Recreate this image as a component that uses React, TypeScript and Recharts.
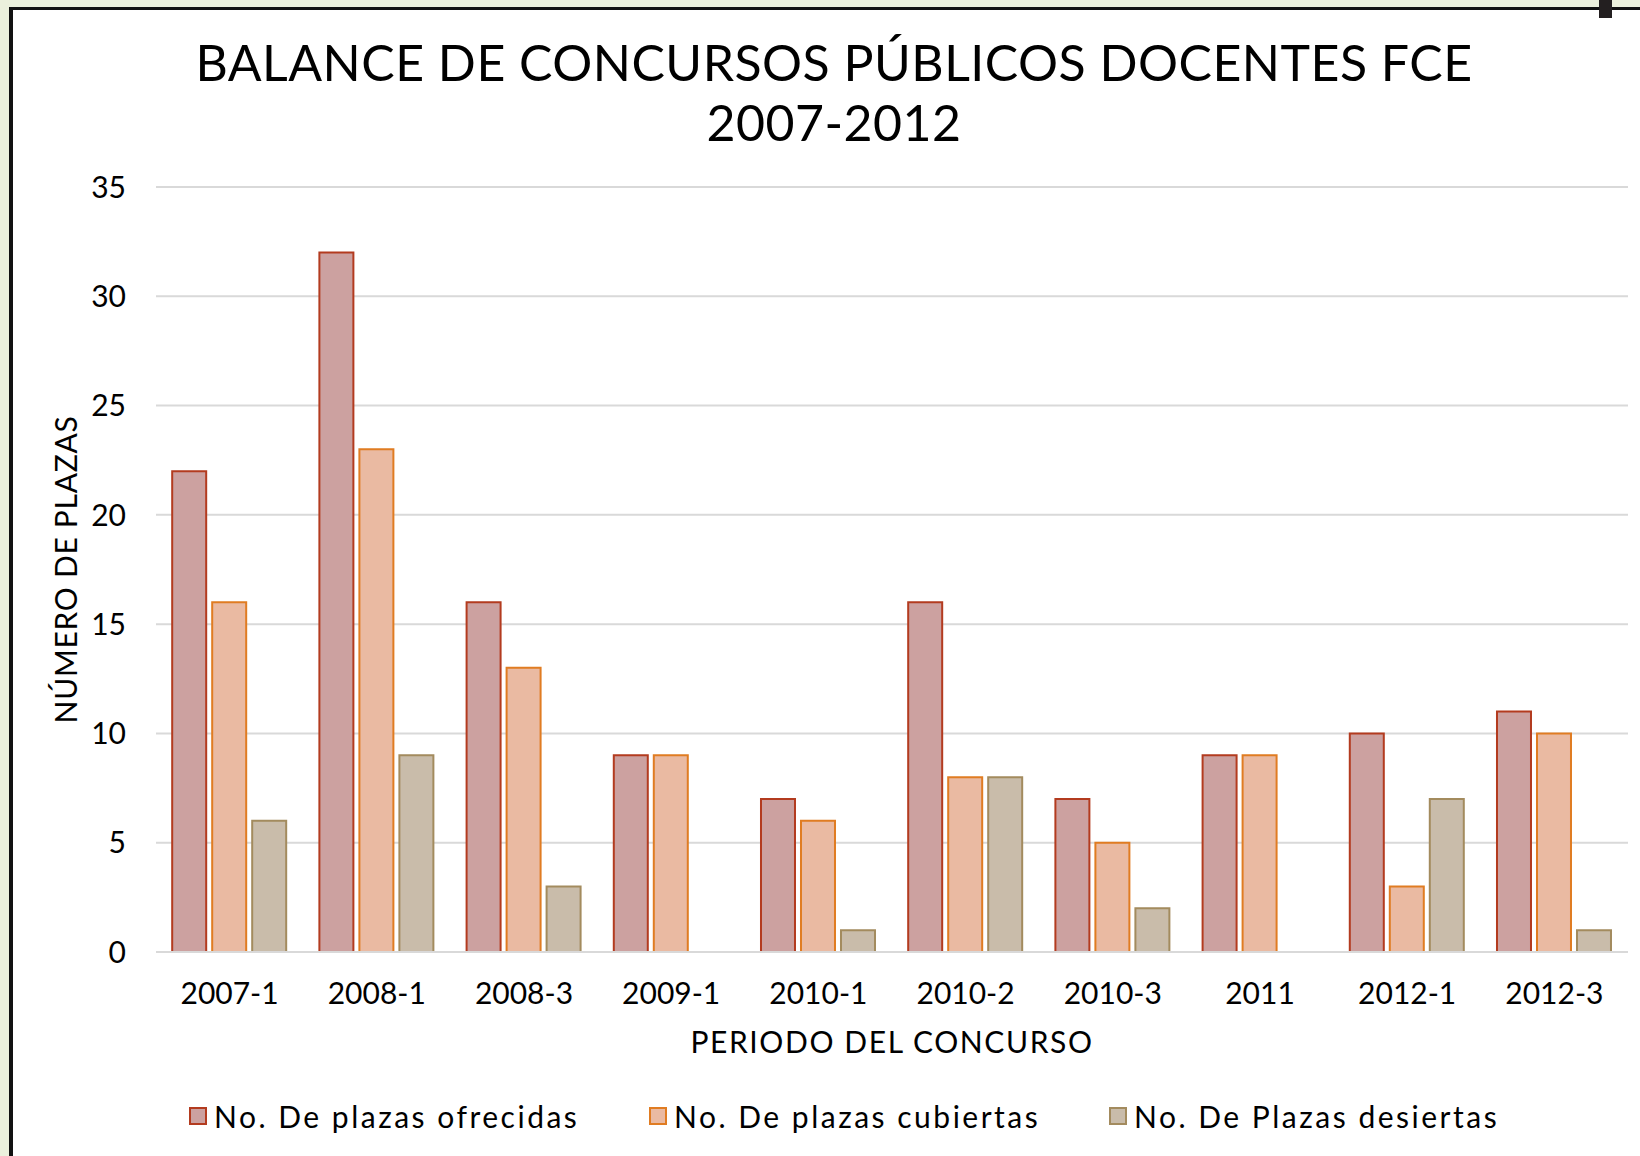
import React from 'react';
import { BarChart, Bar, XAxis, YAxis, CartesianGrid, Legend } from 'recharts';

const periods = ['2007-1', '2008-1', '2008-3', '2009-1', '2010-1', '2010-2', '2010-3', '2011', '2012-1', '2012-3'];
const ofrecidas = [22, 32, 16, 9, 7, 16, 7, 9, 10, 11];
const cubiertas = [16, 23, 13, 9, 6, 8, 5, 9, 3, 10];
const desiertas = [6, 9, 3, 0, 1, 8, 2, 0, 7, 1];
const yTicks = [0, 5, 10, 15, 20, 25, 30, 35];

const seriesNames = ['No. De plazas ofrecidas', 'No. De plazas cubiertas', 'No. De Plazas desiertas'];
const seriesFill = ['#cca1a0', '#eabaa2', '#c9bcaa'];
const seriesStroke = ['#b33b1f', '#e07c22', '#a38b5e'];

const data = periods.map((p, i) => ({
  period: p,
  ofrecidas: ofrecidas[i],
  cubiertas: cubiertas[i],
  desiertas: desiertas[i],
}));

const FONT = 'Lato, "Open Sans", sans-serif';

const LegendContent = () => (
  <div style={{ display: 'flex', alignItems: 'center', fontFamily: FONT, fontSize: 30, color: '#000', paddingLeft: 189, letterSpacing: '2.5px' }}>
    {seriesNames.map((n, i) => (
      <div key={n} style={{ display: 'flex', alignItems: 'center', width: i < 2 ? 460 : 'auto', whiteSpace: 'nowrap' }}>
        <span style={{ display: 'inline-block', width: 14, height: 14, background: seriesFill[i], border: `2px solid ${seriesStroke[i]}`, marginRight: 7 }} />
        <span>{n}</span>
      </div>
    ))}
  </div>
);

export default function App() {
  return (
    <div style={{ position: 'fixed', left: 0, top: 0, width: 1640, height: 1156, background: '#ebf0dc', overflow: 'hidden' }}>
      <div style={{ position: 'absolute', left: 9, top: 7, right: 0, bottom: 0, background: '#fff', borderLeft: '4px solid #111', borderTop: '3px solid #111' }} />
      <div style={{ position: 'absolute', left: 1599, top: 0, width: 13, height: 18, background: '#231f20' }} />
      <div style={{ position: 'absolute', left: 0, top: 0, width: 1640, height: 1156 }}>
        <BarChart
          width={1640}
          height={1156}
          data={data}
          margin={{ top: 187, right: 12, bottom: 104, left: 0 }}
          barCategoryGap="11%"
          barGap={6}
        >
          <CartesianGrid vertical={false} stroke="#d9d9d9" strokeWidth={2} />
          <XAxis
            dataKey="period"
            height={100}
            axisLine={{ stroke: '#d9d9d9', strokeWidth: 2 }}
            tickLine={false}
            tickSize={0}
            tickMargin={31}
            tick={{ fill: '#000', fontSize: 30, fontFamily: FONT }}
            label={(props: any) => {
              const vb = props.viewBox;
              return (
                <text x={vb.x + vb.width / 2} y={1041} textAnchor="middle" dominantBaseline="central" fill="#000" fontSize={30} fontFamily={FONT} letterSpacing={1.6}>
                  PERIODO DEL CONCURSO
                </text>
              );
            }}
          />
          <YAxis
            width={156}
            domain={[0, 35]}
            ticks={yTicks}
            axisLine={false}
            tickLine={false}
            tickSize={0}
            tickMargin={30}
            tick={{ fill: '#000', fontSize: 30, fontFamily: FONT }}
            label={(props: any) => {
              const vb = props.viewBox;
              const cy = vb.y + vb.height / 2;
              return (
                <text x={65} y={cy} transform={`rotate(-90 65 ${cy})`} textAnchor="middle" dominantBaseline="central" fill="#000" fontSize={30} fontFamily={FONT} letterSpacing={0.7}>
                  NÚMERO DE PLAZAS
                </text>
              );
            }}
          />
          <Legend
            layout="horizontal"
            verticalAlign="middle"
            align="center"
            wrapperStyle={{ top: 1098, left: 0, width: 1640 }}
            content={() => <LegendContent />}
          />
          <Bar dataKey="ofrecidas" name={seriesNames[0]} fill={seriesFill[0]} stroke={seriesStroke[0]} strokeWidth={2} isAnimationActive={false} />
          <Bar dataKey="cubiertas" name={seriesNames[1]} fill={seriesFill[1]} stroke={seriesStroke[1]} strokeWidth={2} isAnimationActive={false} />
          <Bar dataKey="desiertas" name={seriesNames[2]} fill={seriesFill[2]} stroke={seriesStroke[2]} strokeWidth={2} isAnimationActive={false} />
        </BarChart>
      </div>
      <div style={{ position: 'absolute', left: 0, top: 32, width: 1668, textAlign: 'center', fontFamily: FONT, fontSize: 50, lineHeight: '60px', color: '#000', letterSpacing: '0.5px' }}>
        BALANCE DE CONCURSOS PÚBLICOS DOCENTES FCE
        <br />
        2007-2012
      </div>
    </div>
  );
}
